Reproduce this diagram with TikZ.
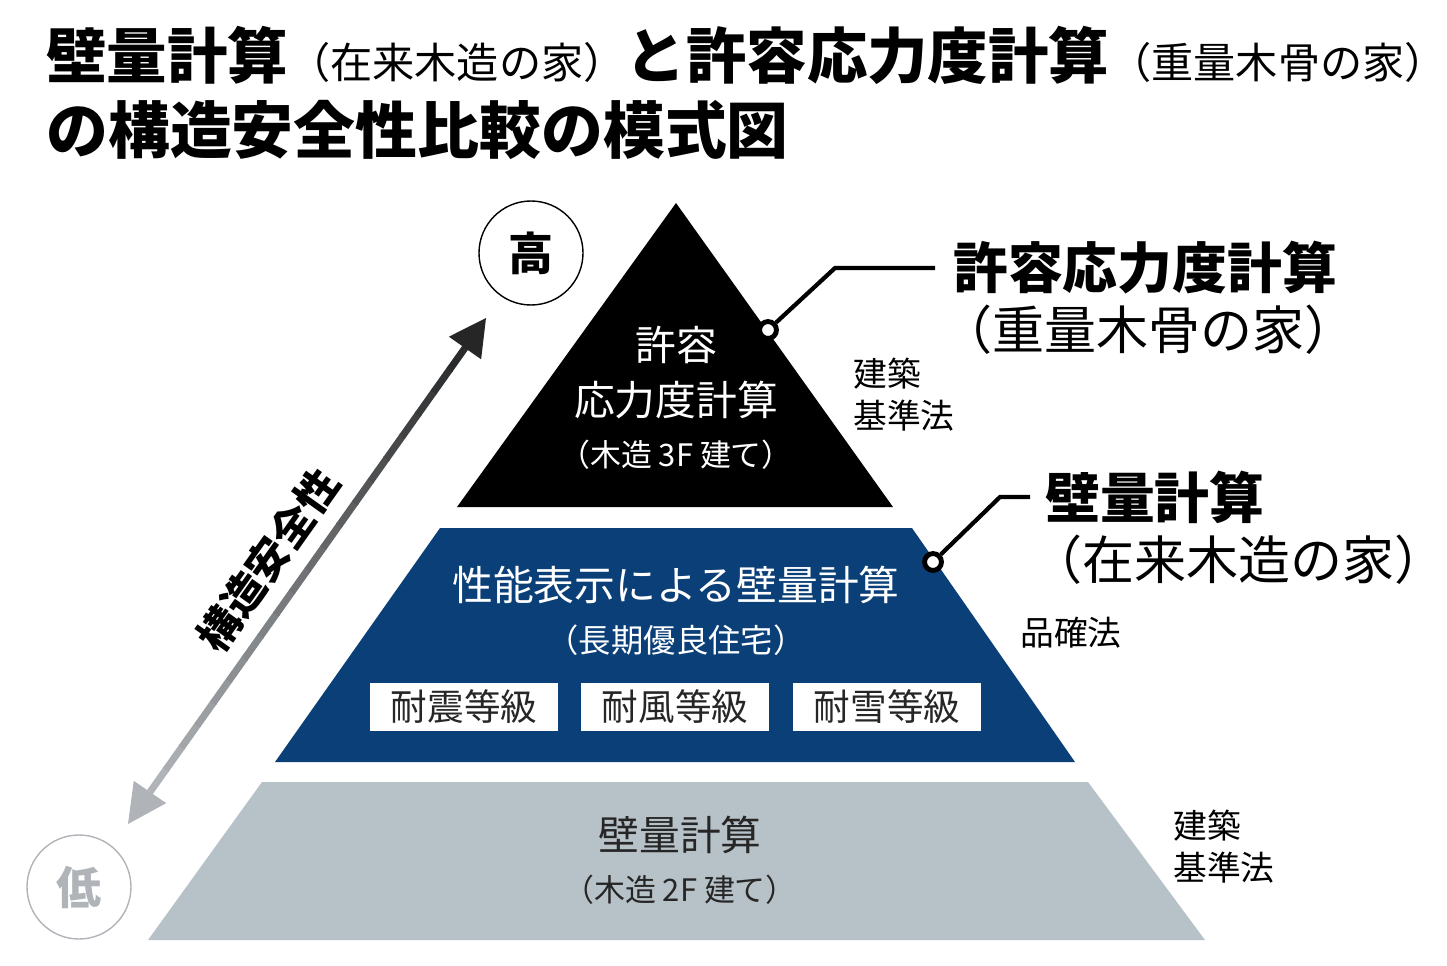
\documentclass[tikz,border=0pt]{standalone}
\usepackage{fontspec}
\setmainfont{Noto Sans CJK JP}
\usetikzlibrary{arrows.meta, positioning, calc}
\definecolor{pyrblue}{HTML}{0B3F77}
\definecolor{pyrgray}{HTML}{B7C1C8}
\definecolor{lowgray}{HTML}{B0B4B8}
\newcommand{\fs}[1]{\fontsize{#1}{#1}\selectfont}

\begin{document}
\begin{tikzpicture}[x=0.025cm, y=-0.025cm,
    lbl/.style={inner sep=0pt, text=white},
    note/.style={inner sep=0pt, align=left, anchor=west, font=\fontsize{24}{30}\selectfont},
    grade/.style={fill=white, minimum width=188*0.025cm, minimum height=48*0.025cm,
                  inner sep=0pt, font=\fs{26}, text=black!85},
    dot/.style={circle, draw=black, line width=3.5pt, fill=white, inner sep=0pt, minimum size=12pt},
    lead/.style={line width=3pt},
  ]
  \useasboundingbox (0,0) rectangle (1447,966);

  % Title
  \node[anchor=west, inner sep=0pt] (title1) at (46,55)
    {\fs{43}\bfseries 壁量計算\mdseries\fs{30}（在来木造の家）\bfseries\fs{43}と許容応力度計算\mdseries\fs{30}（重量木骨の家）};
  \node[anchor=west, inner sep=0pt] (title2) at (46,130) {\fs{44}\bfseries の構造安全性比較の模式図};

  % Pyramid
  \fill[black] (676,203) -- (893,507) -- (457,507) -- cycle;
  \fill[pyrblue] (440,528) -- (912,528) -- (1075,762) -- (275,762) -- cycle;
  \fill[pyrgray] (262,782) -- (1088,782) -- (1205,940) -- (148,940) -- cycle;

  % Top tier
  \node[lbl, font=\fs{29}] (top1) at (676,345) {許容};
  \node[lbl, font=\fs{29}] (top2) at (676,400) {応力度計算};
  \node[lbl, font=\fs{22}] (top3) at (676,455) {（木造 3F 建て）};

  % Middle tier
  \node[lbl, font=\fs{29}] (mid1) at (676,585) {性能表示による壁量計算};
  \node[lbl, font=\fs{23}] (mid2) at (676,640) {（長期優良住宅）};
  \node[grade] (g1) at (464,707) {耐震等級};
  \node[grade] (g2) at (675,707) {耐風等級};
  \node[grade] (g3) at (887,707) {耐雪等級};

  % Bottom tier
  \node[lbl, text=black!85, font=\fs{29}] (bot1) at (680,835) {壁量計算};
  \node[lbl, text=black!85, font=\fs{22}] (bot2) at (680,890) {（木造 2F 建て）};

  % Laws
  \node[note] (law1) at (853,395) {建築\\基準法};
  \node[note] (law2) at (1020,633) {品確法};
  \node[note] (law3) at (1173,847) {建築\\基準法};

  % Callouts
  \node[dot] (d1) at (768,330) {};
  \coordinate (k1) at (835,268);
  \coordinate (e1) at (935,268);
  \draw[lead] (d1) -- (k1) -- (e1);
  \node[anchor=west, inner sep=0pt, font=\fs{39}\bfseries] (c1a) at (953,268) {許容応力度計算};
  \node[anchor=west, inner sep=0pt, font=\fs{37}] (c1b) at (940,330) {（重量木骨の家）};

  \node[dot] (d2) at (933,562) {};
  \coordinate (k2) at (1000,497);
  \coordinate (e2) at (1030,497);
  \draw[lead] (d2) -- (k2) -- (e2);
  \node[anchor=west, inner sep=0pt, font=\fs{39}\bfseries] (c2a) at (1045,497) {壁量計算};
  \node[anchor=west, inner sep=0pt, font=\fs{37}] (c2b) at (1030,560) {（在来木造の家）};

  % High / low
  \node[circle, draw=black, line width=1pt, minimum size=104*0.025cm, font=\fs{32}\bfseries] (high) at (531,253) {高};
  \node[circle, draw=lowgray, line width=1pt, minimum size=104*0.025cm, text=lowgray, font=\fs{32}\bfseries] (low) at (79,887) {低};

  % Safety arrow
  \coordinate (alo) at (150,792);
  \coordinate (ahi) at (465,348);
  \foreach \i in {0,...,19}{
    \pgfmathsetmacro{\shade}{100-\i*4}
    \draw[line width=5pt, color=lowgray!\shade!black]
      ($(alo)!\i/20!(ahi)$) -- ($(alo)!{(\i+1.05)/20}!(ahi)$);
  }
  \coordinate (tiphi) at (486,318);
  \coordinate (tiplo) at (128,824);
  \fill[black!85] (tiphi) -- ($(ahi)!14pt!90:(tiphi)$) -- ($(ahi)!14pt!-90:(tiphi)$) -- cycle;
  \fill[lowgray] (tiplo) -- ($(alo)!14pt!90:(tiplo)$) -- ($(alo)!14pt!-90:(tiplo)$) -- cycle;
  \node[rotate=54.6, font=\fs{30}\bfseries, inner sep=0pt] (axis) at (268,560) {構造安全性};

\end{tikzpicture}
\end{document}
